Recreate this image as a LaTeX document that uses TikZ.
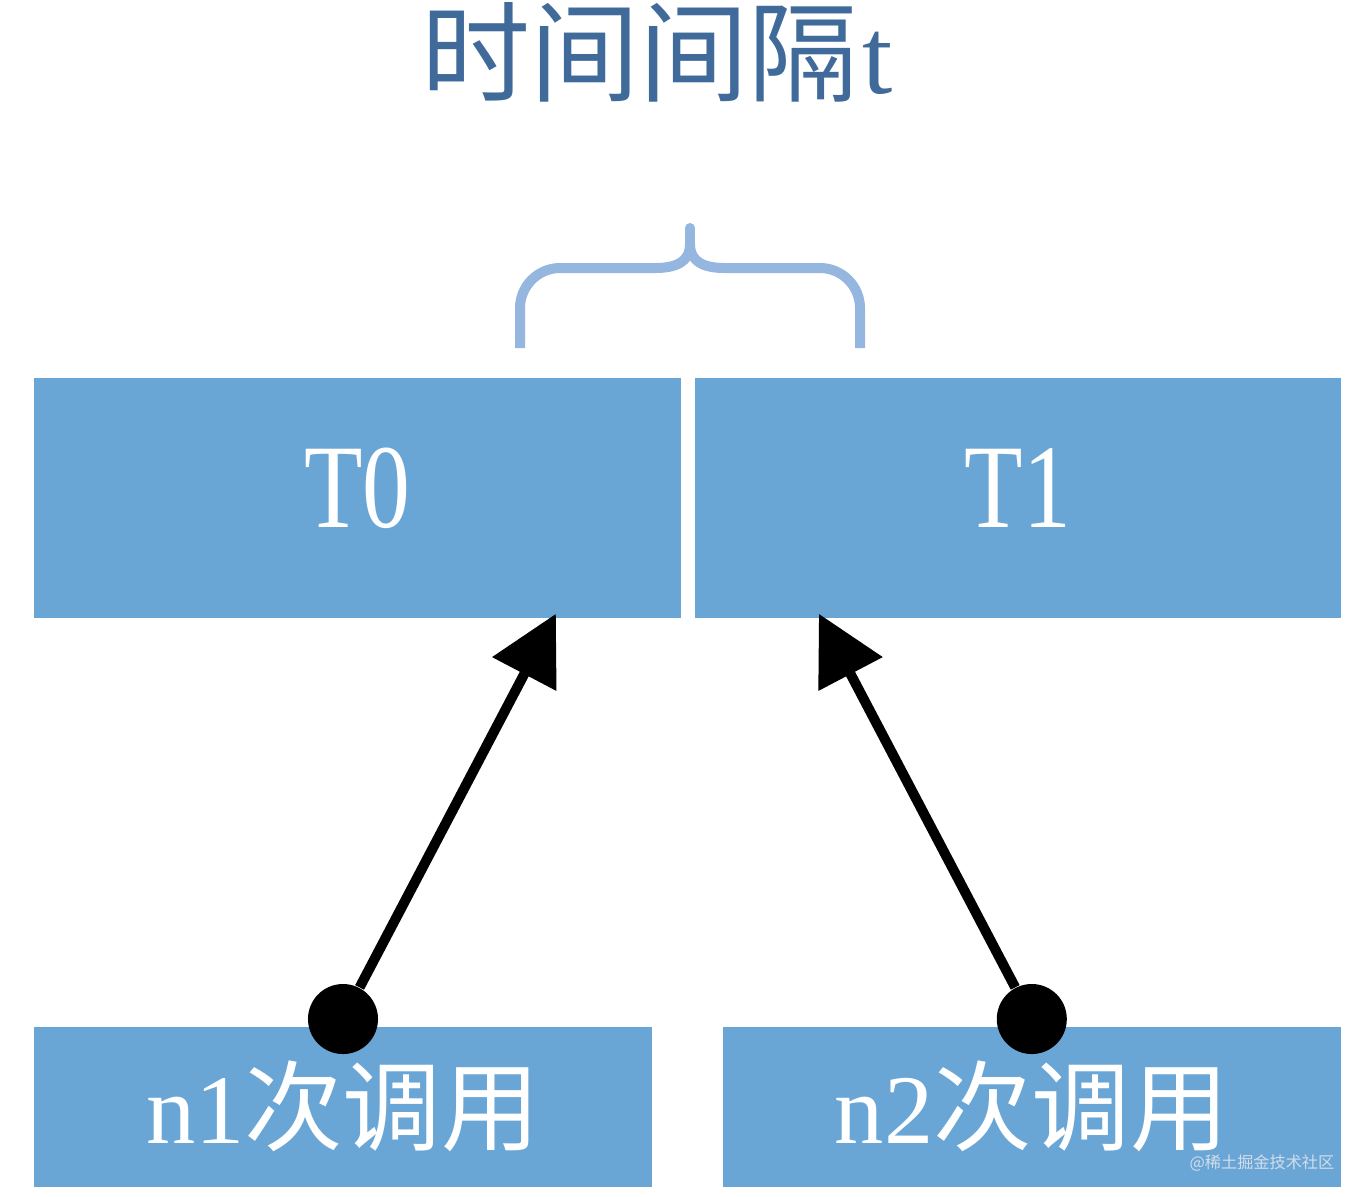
\documentclass[tikz,border=0pt]{standalone}
\usepackage{fontspec}
\usepackage{graphicx}
\setmainfont{Liberation Serif}
\newfontfamily\cjk{Noto Sans CJK SC}
\usetikzlibrary{arrows.meta, positioning, calc}
\definecolor{cellblue}{HTML}{69A6D6}
\definecolor{titleblue}{HTML}{3F6A9A}
\definecolor{braceblue}{HTML}{95B6DF}
\definecolor{markgrey}{HTML}{D3DDEA}
\newcommand{\squeezed}[1]{\scalebox{0.8}[1]{#1}}
\tikzset{
  cell/.style={
    rectangle, fill=cellblue, draw=none, text=white, inner sep=0pt,
    minimum height=2.4cm, text depth=0.2cm, font=\fontsize{34}{34}\selectfont
  },
  callbox/.style={
    rectangle, fill=cellblue, draw=none, text=white, inner sep=0pt,
    minimum width=6.18cm, minimum height=1.6cm, font=\fontsize{28}{28}\selectfont
  },
  dot/.style={circle, fill=black, inner sep=0pt, minimum size=0.7cm},
  arrow/.style={-{Triangle[length=0.68cm,width=0.7cm]}, line width=0.1cm, draw=black},
  brace/.style={draw=braceblue, line width=0.1cm, line join=round},
  title/.style={text=titleblue, inner sep=0pt, font=\fontsize{31}{31}\selectfont},
  watermark/.style={text=markgrey, inner sep=0pt, font=\cjk\fontsize{4.6}{5}\selectfont},
}

\begin{document}
\begin{tikzpicture}[x=0.01cm, y=-0.01cm]
  \useasboundingbox (0,0) rectangle (1355,1196);

  \node[title] (title) at (657,52) {{\cjk 时间间隔}\hspace{0.05cm}t};

  \node[cell, minimum width=6.47cm] (T0) at (357.5,498) {\squeezed{T0}};
  \node[cell, minimum width=6.46cm, right=0.12cm of T0] (T1) {\squeezed{T1}};

  \node[callbox, below right=4.07cm and 0cm of T0.south west] (n1) {n1{\cjk 次调用}};
  \node[callbox, below left=4.07cm and 0cm of T1.south east] (n2) {n2{\cjk 次调用}};

  % call points and where they land
  \node[dot, yshift=0.07cm] (d1) at (n1.north) {};
  \node[dot, yshift=0.07cm] (d2) at (n2.north) {};
  \coordinate (tip0) at ($(T0.south east)+(-126,-5)$);
  \coordinate (tip1) at ($(T1.south west)+(125,-5)$);
  \draw[arrow] (d1) -- (tip0);
  \draw[arrow] (d2) -- (tip1);

  % brace over the interval
  \draw[brace] (520,348) -- (520,308) .. controls (520,286) and (538,268) .. (560,268)
    -- (655,268) .. controls (676,268) and (690,262) .. (690,244)
    .. controls (690,262) and (704,268) .. (725,268)
    -- (820,268) .. controls (842,268) and (860,286) .. (860,308) -- (860,348);
  \draw[brace, line cap=round] (690,246) -- (690,228);

  \node[watermark, anchor=east] (mark) at (1335,1163) {@稀土掘金技术社区};
\end{tikzpicture}
\end{document}
